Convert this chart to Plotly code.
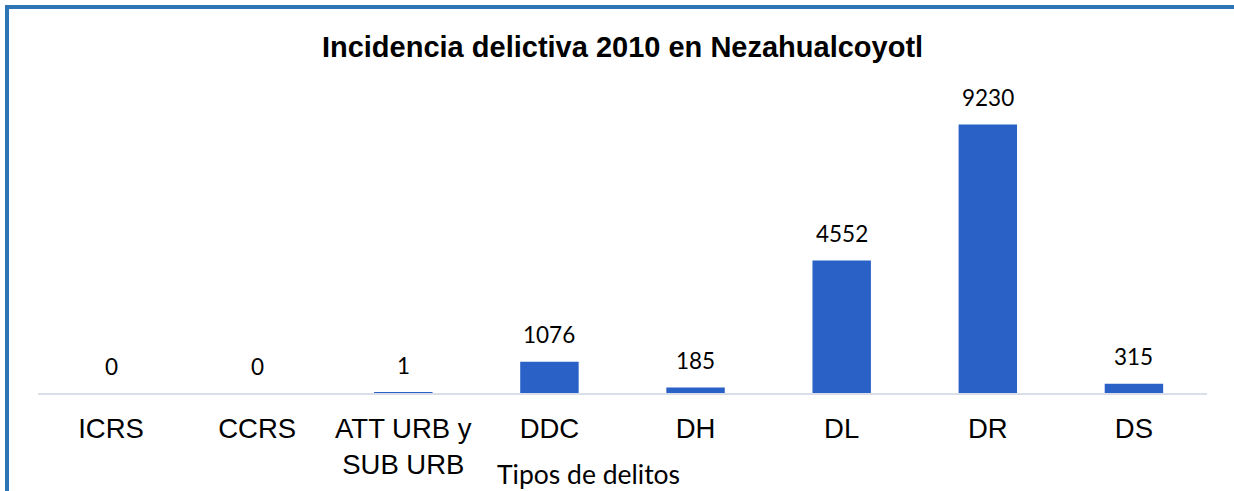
import plotly.graph_objects as go

categories = ["ICRS", "CCRS", "ATT URB y<br>SUB URB", "DDC", "DH", "DL", "DR", "DS"]
values = [0, 0, 1, 1076, 185, 4552, 9230, 315]
value_labels = [str(v) for v in values]

title_text = "Incidencia delictiva 2010 en Nezahualcoyotl"
x_title = "Tipos de delitos"

W, H = 1234, 491
ML, MR, MT, MB = 38, 27, 102, 98
PW = W - ML - MR
PH = H - MT - MB


def px_x(p):
    return (p - ML) / PW


def px_y(p):
    return (H - MB - p) / PH


fig = go.Figure()
fig.add_trace(go.Bar(
    x=categories,
    y=values,
    width=0.40,
    marker=dict(color="#2961C6", line=dict(width=0)),
    hoverinfo="x+y",
))

for c, v, t in zip(categories, values, value_labels):
    fig.add_annotation(
        x=c, y=v, xref="x", yref="y", text=t, showarrow=False,
        yanchor="middle", yshift=27,
        font=dict(family="Lato", size=22.5, color="#000000"),
    )

fig.add_annotation(
    x=px_x(588), y=0, xref="paper", yref="paper", text=x_title,
    showarrow=False, xanchor="center", yanchor="middle", yshift=-81,
    font=dict(family="Lato", size=26.5, color="#000000"),
)

border = "#2E75B6"
fig.add_shape(type="line", xref="paper", yref="paper",
              x0=px_x(5), x1=px_x(W + 5), y0=px_y(7), y1=px_y(7),
              line=dict(color=border, width=4))
fig.add_shape(type="line", xref="paper", yref="paper",
              x0=px_x(7), x1=px_x(7), y0=px_y(5), y1=px_y(H + 5),
              line=dict(color=border, width=4))

fig.update_layout(
    width=W, height=H,
    margin=dict(l=ML, r=MR, t=MT, b=MB, pad=0, autoexpand=False),
    paper_bgcolor="white", plot_bgcolor="white",
    showlegend=False,
    bargap=0.6,
    title=dict(text="<b>" + title_text + "</b>", x=0.5, xref="paper", xanchor="center",
               y=1 - 47 / H, yref="container", yanchor="middle",
               font=dict(family="Liberation Sans", size=29, color="#000000")),
    xaxis=dict(
        showline=True, linecolor="#D9DEE8", linewidth=2, layer="above traces",
        showgrid=False, ticks="", ticklabelstandoff=10, automargin=False,
        tickfont=dict(family="Liberation Sans", size=27.5, color="#000000"),
        zeroline=False,
    ),
    yaxis=dict(
        range=[0, 10000], visible=False, showgrid=False, zeroline=False,
        automargin=False,
    ),
)

fig.write_html(
    "out.html",
    config={"displayModeBar": False},
    post_script="document.body.style.margin='0';document.body.style.overflow='hidden';",
)
